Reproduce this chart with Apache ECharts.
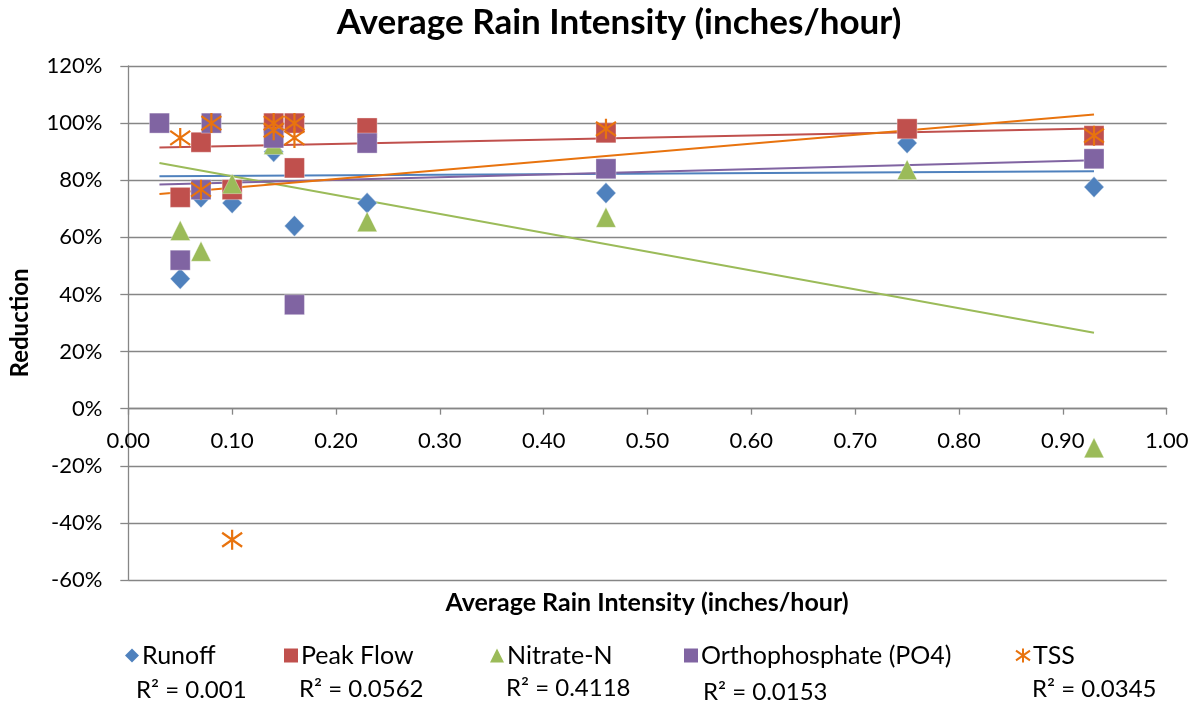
<!DOCTYPE html>
<html>
<head>
<meta charset="utf-8">
<script src="https://cdn.jsdelivr.net/npm/echarts@6/dist/echarts.min.js"></script>
<style>
html,body{margin:0;padding:0;background:#fff;}
#chart{width:1198px;height:706px;}
</style>
</head>
<body>
<div id="chart"></div>
<script>
// ---- data ----
const seriesNames = ['Runoff', 'Peak Flow', 'Nitrate-N', 'Orthophosphate (PO4)', 'TSS'];

const runoffX = [0.05, 0.07, 0.10, 0.14, 0.16, 0.23, 0.46, 0.75, 0.93];
const runoffY = [45.5, 74, 72, 90, 64, 72, 75.5, 93, 77.6];

const peakX = [0.05, 0.07, 0.10, 0.14, 0.16, 0.16, 0.23, 0.46, 0.75, 0.93];
const peakY = [74, 93.3, 76.7, 100, 100, 84.3, 98.3, 96.6, 98, 95.6];

const nitrateX = [0.05, 0.07, 0.10, 0.14, 0.23, 0.46, 0.75, 0.93];
const nitrateY = [62.4, 55.1, 78.8, 92.5, 65.5, 67, 83.7, -13.7];

const orthoX = [0.03, 0.05, 0.07, 0.08, 0.14, 0.16, 0.23, 0.46, 0.93];
const orthoY = [100, 52, 76.7, 100, 94.8, 36.4, 93, 84, 87.5];

const tssX = [0.05, 0.07, 0.08, 0.10, 0.14, 0.14, 0.16, 0.16, 0.46, 0.93];
const tssY = [94.8, 76.7, 100, -45.9, 100, 97.5, 100, 94.8, 98, 95.6];

// trend line end points (x0, x1) and values
const trendX = [0.03, 0.93];
const runoffTrend = [81.4, 83.1];
const peakTrend = [91.5, 98.1];
const nitrateTrend = [86, 26.6];
const orthoTrend = [78.5, 87];
const tssTrend = [75.2, 103];

const rSquared = ['0.001', '0.0562', '0.4118', '0.0153', '0.0345'];

const xTicks = { min: 0, max: 1, interval: 0.1 };
const yTicks = { min: -60, max: 120, interval: 20 };

// ---- styling ----
const colors = ['#4F81BD', '#C0504D', '#9BBB59', '#8064A2', '#E8730E'];
const FONT = 'Lato, "Open Sans", sans-serif';
const STAR = 'path://M10 0 L10 20 M0 3 L20 17 M20 3 L0 17';
const GRID = { left: 128.3, right: 31.3, top: 66, bottom: 126 };
const CHART_H = 706;

function pts(xs, ys) { return xs.map((x, i) => [x, ys[i]]); }

const scatterDefs = [
  { name: seriesNames[0], data: pts(runoffX, runoffY), symbol: 'diamond', size: [20, 21] },
  { name: seriesNames[1], data: pts(peakX, peakY), symbol: 'rect', size: 20 },
  { name: seriesNames[2], data: pts(nitrateX, nitrateY), symbol: 'triangle', size: 20 },
  { name: seriesNames[3], data: pts(orthoX, orthoY), symbol: 'rect', size: 20 },
  { name: seriesNames[4], data: pts(tssX, tssY), symbol: STAR, size: 20 }
];
const trends = [runoffTrend, peakTrend, nitrateTrend, orthoTrend, tssTrend];

const series = [];
trends.forEach((t, i) => {
  series.push({
    name: seriesNames[i] + ' trend',
    type: 'line',
    data: pts(trendX, t),
    showSymbol: false,
    symbol: 'none',
    silent: true,
    z: 2,
    lineStyle: { color: colors[i], width: 2 }
  });
});
scatterDefs.forEach((s, i) => {
  const isStar = i === 4;
  series.push({
    name: s.name,
    type: 'scatter',
    data: s.data,
    symbol: s.symbol,
    symbolSize: s.size,
    z: 3 + i,
    itemStyle: isStar
      ? { color: 'transparent', borderColor: colors[i], borderWidth: 2.2, opacity: 1 }
      : { color: colors[i], borderColor: 'rgba(255,255,255,0.35)', borderWidth: 1, opacity: 1 }
  });
});

const legendLeft = [120, 279, 485, 679, 1010];
const legendIcons = ['diamond', 'rect', 'triangle', 'rect', STAR];
const legends = seriesNames.map((n, i) => ({
  left: legendLeft[i],
  top: 638,
  itemWidth: 14,
  itemHeight: 14,
  selectedMode: false,
  textStyle: { fontFamily: FONT, fontSize: 25, color: '#000', padding: [0, 0, 0, -2] },
  data: [{
    name: n,
    icon: legendIcons[i],
    itemStyle: i === 4
      ? { color: 'transparent', borderColor: colors[i], borderWidth: 2 }
      : { color: colors[i], borderWidth: 0 }
  }]
}));

const r2Pos = [[136, 690], [299, 689], [506, 688], [703, 692], [1032, 689]];
const graphics = [
  { type: 'text', x: 619, y: 23, style: { text: 'Average Rain Intensity (inches/hour)', fontFamily: FONT, fontSize: 35, fontWeight: 'bold', fill: '#000', align: 'center', verticalAlign: 'middle' } },
  { type: 'text', x: 647, y: 603, style: { text: 'Average Rain Intensity (inches/hour)', fontFamily: FONT, fontSize: 25, fontWeight: 'bold', fill: '#000', align: 'center', verticalAlign: 'middle' } },
  { type: 'text', x: 20, y: 323, rotation: Math.PI / 2, style: { text: 'Reduction', fontFamily: FONT, fontSize: 24, fontWeight: 'bold', fill: '#000', align: 'center', verticalAlign: 'middle' } }
];
rSquared.forEach((r, i) => {
  graphics.push({ type: 'text', x: r2Pos[i][0], y: r2Pos[i][1], style: { text: 'R² = ' + r, fontFamily: FONT, fontSize: 24, fill: '#000', align: 'left', verticalAlign: 'middle' } });
});

const chart = echarts.init(document.getElementById('chart'), null, { renderer: 'canvas' });
const option = {
  animation: false,
  backgroundColor: '#fff',
  grid: Object.assign({ containLabel: false }, GRID),
  xAxis: {
    type: 'value',
    min: xTicks.min, max: xTicks.max, interval: xTicks.interval,
    axisLine: { show: true, onZero: true, lineStyle: { color: '#868686', width: 1.3 } },
    axisTick: { show: true, inside: false, length: 6, lineStyle: { color: '#868686', width: 1.3 } },
    axisLabel: { formatter: v => v.toFixed(2), fontFamily: FONT, fontSize: 22, color: '#000', margin: 21 },
    splitLine: { show: false }
  },
  yAxis: {
    type: 'value',
    min: yTicks.min, max: yTicks.max, interval: yTicks.interval,
    axisLine: { show: true, onZero: false, lineStyle: { color: '#868686', width: 1.3 } },
    axisTick: { show: true, inside: false, length: 8, lineStyle: { color: '#868686', width: 1.3 } },
    axisLabel: { formatter: v => v + '%', fontFamily: FONT, fontSize: 22, color: '#000', margin: 26 },
    splitLine: { show: true, lineStyle: { color: '#868686', width: 1.3 } }
  },
  legend: legends,
  graphic: graphics,
  series: series
};
chart.setOption(option);

// place the x axis where y = 0 (Excel style: horizontal axis crosses at 0)
const yZeroPx = chart.convertToPixel({ yAxisIndex: 0 }, 0);
const gridBottomPx = CHART_H - GRID.bottom;
if (Math.abs(gridBottomPx - yZeroPx) > 1) {
  chart.setOption({ xAxis: { offset: -(gridBottomPx - yZeroPx) } });
}
</script>
</body>
</html>
